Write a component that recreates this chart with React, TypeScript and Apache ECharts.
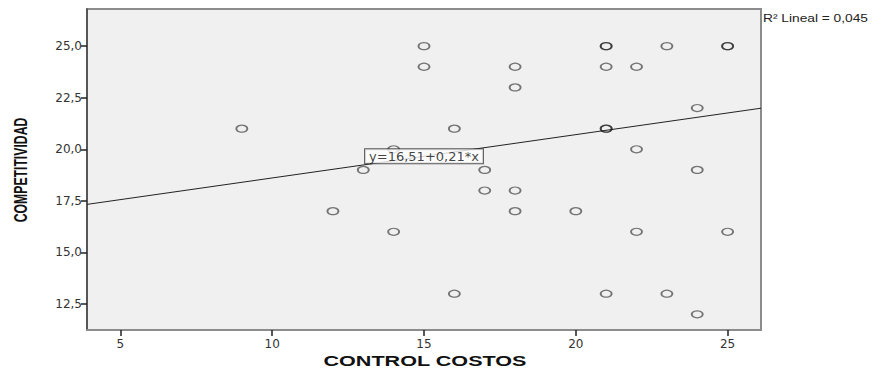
import React, { useEffect, useRef } from "react";
import * as echarts from "echarts";

// Data
const controlCostos = [9, 12, 13, 14, 14, 15, 15, 16, 16, 17, 17, 18, 18, 18, 18, 20, 21, 21, 21, 21, 21, 21, 22, 22, 22, 23, 23, 24, 24, 24, 25, 25, 25];
const competitividad = [21, 17, 19, 20, 16, 25, 24, 21, 13, 19, 18, 24, 23, 18, 17, 17, 25, 25, 24, 21, 21, 13, 24, 20, 16, 25, 13, 22, 19, 12, 25, 25, 16];

const xTicks = [5, 10, 15, 20, 25];
const yTicks = [12.5, 15, 17.5, 20, 22.5, 25];
const xRange = [3.9, 26.1];
const yRange = [11.24, 26.8];

const intercept = 16.51;
const slope = 0.21;
const rSquared = "0,045";
const fitLabelAt = 15;

const xTitle = "CONTROL COSTOS";
const yTitle = "COMPETITIVIDAD";

const comma = (v: number, d: number) => v.toFixed(d).replace(".", ",");

export default function App() {
  const ref = useRef<HTMLDivElement>(null);
  useEffect(() => {
    document.body.style.margin = "0";
    if (!ref.current) return;
    const chart = echarts.init(ref.current, undefined, { renderer: "svg" });
    const points = controlCostos.map((x, i) => [x, competitividad[i]]);
    const fitLine = xRange.map((x) => [x, intercept + slope * x]);
    const labelPoint = [[fitLabelAt, intercept + slope * fitLabelAt]];
    chart.setOption({
      animation: false,
      grid: {
        left: 87,
        right: 121,
        top: 9,
        bottom: 39,
        show: true,
        backgroundColor: "#f0f0f0",
        borderColor: "#8c8c8c",
        borderWidth: 2,
      },
      xAxis: {
        type: "value",
        min: xRange[0],
        max: xRange[1],
        splitLine: { show: false },
        axisLine: { show: true, onZero: false, lineStyle: { color: "#8c8c8c", width: 2 } },
        axisTick: { show: true, length: 6, customValues: xTicks, lineStyle: { color: "#222", width: 1.5 } },
        axisLabel: {
          customValues: xTicks,
          margin: 8,
          fontFamily: "DejaVu Sans",
          fontSize: 12,
          color: "#333",
          formatter: (v: number) => String(v),
        },
      },
      yAxis: {
        type: "value",
        min: yRange[0],
        max: yRange[1],
        splitLine: { show: false },
        axisLine: { show: true, onZero: false, lineStyle: { color: "#444", width: 1.5 } },
        axisTick: { show: true, length: 6, customValues: yTicks, lineStyle: { color: "#222", width: 1.5 } },
        axisLabel: {
          customValues: yTicks,
          margin: 5,
          fontFamily: "DejaVu Sans",
          fontSize: 12,
          color: "#333",
          formatter: (v: number) => comma(v, 1),
        },
      },
      series: [
        {
          type: "line",
          data: fitLine,
          showSymbol: false,
          symbol: "none",
          lineStyle: { color: "#222", width: 1 },
          z: 2,
          silent: true,
        },
        {
          type: "scatter",
          data: points,
          symbol: "circle",
          symbolSize: [11, 7],
          itemStyle: { color: "rgba(0,0,0,0)", borderColor: "rgba(20,20,20,0.7)", borderWidth: 1.5 },
          z: 3,
        },
        {
          type: "scatter",
          data: labelPoint,
          symbolSize: 0,
          z: 10,
          label: {
            show: true,
            position: "inside",
            formatter: `y=${comma(intercept, 2)}+${comma(slope, 2)}*x`,
            backgroundColor: "#ffffff",
            borderColor: "#333",
            borderWidth: 1,
            padding: [1, 4, 0, 4],
            fontFamily: "DejaVu Sans",
            fontSize: 13,
            color: "#111",
          },
        },
      ],
      graphic: [
        {
          type: "text",
          x: 425,
          y: 361,
          scaleX: 1.44,
          style: {
            text: xTitle,
            fontFamily: "Liberation Sans",
            fontWeight: "bold",
            fontSize: 15,
            fill: "#111",
            textAlign: "center",
            textVerticalAlign: "middle",
          },
        },
        {
          type: "text",
          x: 21,
          y: 170,
          rotation: Math.PI / 2,
          scaleX: 0.68,
          style: {
            text: yTitle,
            fontFamily: "Liberation Sans",
            fontWeight: "bold",
            fontSize: 18,
            fill: "#111",
            textAlign: "center",
            textVerticalAlign: "middle",
          },
        },
        {
          type: "text",
          x: 763,
          y: 18,
          scaleX: 1.25,
          style: {
            text: `R² Lineal = ${rSquared}`,
            fontFamily: "Liberation Sans",
            fontSize: 11,
            fill: "#222",
            textAlign: "left",
            textVerticalAlign: "middle",
          },
        },
      ],
    });
    return () => chart.dispose();
  }, []);
  return <div ref={ref} style={{ width: 882, height: 369 }} />;
}
